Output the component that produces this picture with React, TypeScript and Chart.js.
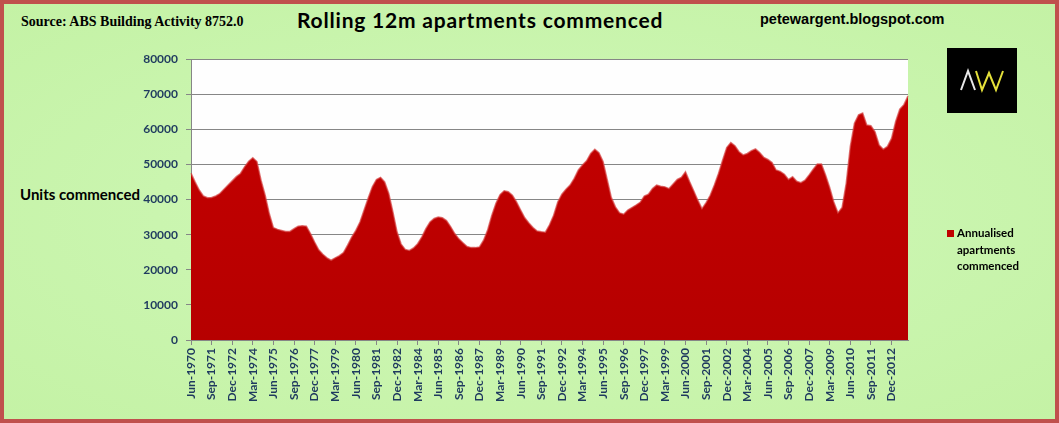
// Rolling 12m apartments commenced, quarterly area chart.

import { useEffect, useRef } from "react";
import { Chart, registerables } from "chart.js";

Chart.register(...registerables);

const QUARTER_MONTHS = ["Mar", "Jun", "Sep", "Dec"];
const FIRST_YEAR = 1970;
const FIRST_QUARTER = 1; // Jun
const LABEL_EVERY = 5;

// annualised apartments commenced (Jun-1970 .. Dec-2013)
const units1970s = [
  47500, 45000, 42700, 41000, 40500, 40600, 41000, 41700, 42900, 44100,
  45300, 46500, 47400, 49300, 50900, 51900, 50800, 45500, 41200, 36000,
  32000, 31500, 31200, 30900, 30900, 31700, 32400, 32500, 32400, 30300,
  27900, 25700, 24400, 23400, 22700, 23400, 24000, 24900, 27000,
];
const units1980s = [
  29300, 31200, 33600, 37000, 40400, 43600, 45700, 46300, 45000, 41700,
  36500, 30800, 27300, 25800, 25500, 26200, 27400, 29300, 31700, 33600,
  34600, 35000, 34800, 34000, 32300, 30300, 28800, 27700, 26600, 26300,
  26300, 26500, 28400, 31400, 35500, 38900, 41400, 42500, 42200, 41200,
];
const units1990s = [
  39300, 37000, 34800, 33300, 32000, 31000, 30800, 30700, 32800, 35500,
  39300, 41500, 42900, 44100, 46000, 48400, 49800, 51000, 53100, 54300,
  53300, 50800, 45700, 40600, 37900, 36200, 35800, 37000, 37700, 38400,
  39200, 41000, 41500, 43100, 44100, 43800, 43600, 43100, 44400, 45700,
];
const units2000s = [
  46300, 47900, 45100, 42500, 39800, 37400, 39100, 41200, 44100, 47400,
  51200, 54800, 56200, 55300, 53600, 52700, 53100, 53900, 54400, 53400,
  52000, 51400, 50500, 48400, 48000, 47200, 45700, 46500, 45200, 44800,
  45500, 47000, 48600, 50100, 50100, 47000, 43400, 39300, 36200, 37700,
];
const units2010s = [
  44600, 55100, 61700, 64100, 64600, 61200, 61000, 59300, 55500, 54300,
  55100, 57400, 62200, 65700, 67000, 69500,
];

const units = [...units1970s, ...units1980s, ...units1990s, ...units2000s, ...units2010s];

const quarters = units.map((_, i) => {
  const q = FIRST_QUARTER + i;
  return `${QUARTER_MONTHS[q % 4]}-${FIRST_YEAR + Math.floor(q / 4)}`;
});

const TICK_BLUE = "#1f3a5f";
const GRID = "#868686";

const plotBg = {
  id: "plotBg",
  beforeDraw(chart: Chart) {
    const { ctx, chartArea: a } = chart;
    ctx.save();
    ctx.fillStyle = "#fefefe";
    ctx.fillRect(a.left, a.top, a.right - a.left, a.bottom - a.top);
    ctx.restore();
  },
};

function ApartmentsChart() {
  const ref = useRef<HTMLCanvasElement>(null);

  useEffect(() => {
    if (!ref.current) return;
    const chart = new Chart(ref.current, {
      type: "line",
      data: {
        labels: quarters,
        datasets: [{
          label: "Annualised apartments commenced",
          data: units,
          fill: "origin",
          pointRadius: 0,
          borderWidth: 1.5,
          borderColor: "rgba(214,70,70,0.7)",
          backgroundColor: (c: any) => {
            const a = c.chart.chartArea;
            if (!a) return "#c00000";
            const g = c.chart.ctx.createLinearGradient(0, a.top, 0, a.bottom);
            g.addColorStop(0, "#c60000");
            g.addColorStop(1, "#b60000");
            return g;
          },
          tension: 0,
        }],
      },
      options: {
        responsive: true,
        maintainAspectRatio: false,
        animation: false,
        layout: { padding: { left: 0, top: 59, right: 151, bottom: 0 } },
        plugins: { legend: { display: false }, tooltip: { enabled: false } },
        scales: {
          x: {
            ticks: {
              autoSkip: false,
              maxRotation: 90,
              minRotation: 90,
              padding: 3,
              color: TICK_BLUE,
              font: { family: "Lato", weight: "bold", size: 12 },
              callback: (_v: any, i: number) => (i % LABEL_EVERY === 0 ? quarters[i] : ""),
            },
            grid: {
              drawOnChartArea: false,
              tickLength: 5,
              tickColor: (c: any) => (c.index % LABEL_EVERY === 0 ? GRID : "transparent"),
            },
            border: { color: GRID },
            afterFit: (s: any) => { s.height = 83; },
          },
          y: {
            min: 0,
            max: 80000,
            ticks: {
              stepSize: 10000,
              padding: 8,
              color: TICK_BLUE,
              font: { family: "Lato", weight: "bold", size: 12 },
              callback: (v: any) => String(v),
            },
            grid: { color: GRID, tickLength: 5, tickColor: GRID },
            border: { color: GRID },
            afterFit: (s: any) => { s.width = 191; },
          },
        },
      },
      plugins: [plotBg],
    });
    return () => chart.destroy();
  }, []);

  return (
    <div style={{ position: "absolute", left: 0, top: 0, width: 1059, height: 423 }}>
      <canvas ref={ref} role="img" aria-label="Area chart of rolling 12 month apartments commenced" />
    </div>
  );
}

const abs = (left: number, top: number, extra: any = {}) => ({
  position: "absolute" as const, left, top, whiteSpace: "nowrap" as const, ...extra,
});

export default function App() {
  return (
    <div>
      <div style={{
        position: "absolute", left: 0, top: 0, width: 1059, height: 423, boxSizing: "border-box",
        border: "4px solid #c0504d",
        background: "radial-gradient(ellipse at 50% 50%, #d0f8b9 0%, #c4f2a5 100%)",
      }} />
      <div style={abs(21, 14, { font: "bold 14px 'Liberation Serif'", color: "#000" })}>
        Source: ABS Building Activity 8752.0
      </div>
      <div style={abs(297, 7, { font: "bold 21px Lato", letterSpacing: "0.8px", color: "#000" })}>
        Rolling 12m apartments commenced
      </div>
      <div style={abs(760, 11, { font: "bold 14.5px 'Liberation Sans'", color: "#000" })}>
        petewargent.blogspot.com
      </div>
      <div style={abs(947, 48, { width: 70, height: 65, background: "#000" })}>
        <svg width="70" height="65">
          <polyline points="14,42 21,23 28,42" fill="none" stroke="#e8e8e8" strokeWidth="2" />
          <polyline points="29,23 35,42 42,25 49,42 56,23" fill="none" stroke="#e4e03a" strokeWidth="2" />
        </svg>
      </div>
      <div style={abs(20, 185, { font: "bold 15px Lato", color: "#000" })}>Units commenced</div>
      <ApartmentsChart />
      <div style={abs(947, 230, { width: 7, height: 7, background: "#c00000" })} />
      <div style={abs(957, 225, { font: "bold 11.5px Lato", lineHeight: "16.7px", color: "#000" })}>
        Annualised<br />apartments<br />commenced
      </div>
    </div>
  );
}
